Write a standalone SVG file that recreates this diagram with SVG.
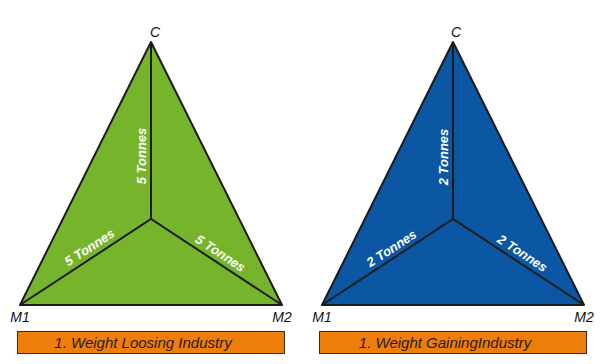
<svg xmlns="http://www.w3.org/2000/svg" width="600" height="364" viewBox="0 0 600 364">
<style>
.tri{stroke:#1c1c1c;stroke-width:2;stroke-linejoin:round}
.green{fill:#76B52B}
.blue{fill:#0B57A3}
.edge{stroke:#1c1c1c;stroke-width:2;fill:none}
.lbl{font-family:"Liberation Sans",Arial,sans-serif;font-style:italic;font-size:14px;fill:#111}
.w{font-family:"Liberation Sans",Arial,sans-serif;font-style:italic;font-size:13px;font-weight:bold;fill:#fff;text-anchor:middle}
.box{fill:#EF7D0A;stroke:#3a2a1a;stroke-width:1}
.cap{font-family:"Liberation Sans",Arial,sans-serif;font-style:italic;font-size:15px;fill:#2a1a10;text-anchor:middle}
</style>
<rect width="600" height="364" fill="#fff"/>
<g id="left-triangle">
<polygon class="tri green" points="151,42 20,305 282,305"/>
</g>
<g id="right-triangle">
<polygon class="tri blue" points="453,42 322,305 584,305"/>
</g>
<g id="connectors">
<path class="edge" d="M151,42 L151,219 M20,305 L151,219 L282,305"/>
<path class="edge" d="M453,42 L453,219 M322,305 L453,219 L584,305"/>
</g>
<g id="left-labels">
<text class="lbl" x="155" y="37" text-anchor="middle">C</text>
<text class="lbl" x="20" y="322" text-anchor="middle">M1</text>
<text class="lbl" x="282" y="322" text-anchor="middle">M2</text>
<text class="w" transform="translate(146,156) rotate(-90)">5 Tonnes</text>
<text class="w" transform="translate(92,251) rotate(-33.3)">5 Tonnes</text>
<text class="w" transform="translate(218,257) rotate(33.3)">5 Tonnes</text>
</g>
<g id="right-labels">
<text class="lbl" x="456" y="37" text-anchor="middle">C</text>
<text class="lbl" x="322" y="322" text-anchor="middle">M1</text>
<text class="lbl" x="584" y="322" text-anchor="middle">M2</text>
<text class="w" transform="translate(448,157) rotate(-90)">2 Tonnes</text>
<text class="w" transform="translate(394,252) rotate(-33.3)">2 Tonnes</text>
<text class="w" transform="translate(520,257) rotate(33.3)">2 Tonnes</text>
</g>
<g id="left-caption">
<rect class="box" x="17.5" y="331.5" width="267" height="22"/>
<text class="cap" x="143" y="348">1. Weight Loosing Industry</text>
</g>
<g id="right-caption">
<rect class="box" x="319.5" y="331.5" width="267" height="22"/>
<text class="cap" x="445" y="348">1. Weight GainingIndustry</text>
</g>
</svg>
